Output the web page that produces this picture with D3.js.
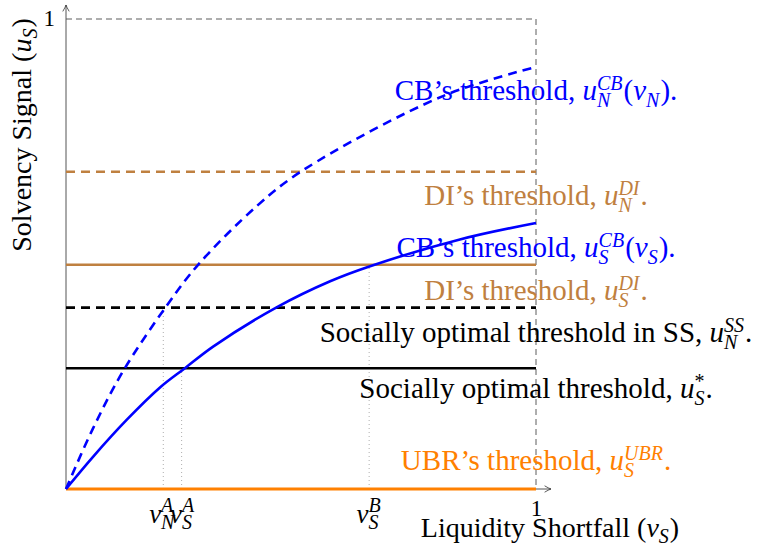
<!DOCTYPE html>
<html lang="en">
<head>
<meta charset="utf-8">
<title>Thresholds</title>
<script src="https://d3js.org/d3.v7.min.js"></script>
<style>
  body { margin: 0; background: #fff; }
  svg { display: block; }
  text { font-family: "Liberation Serif", "DejaVu Serif", serif; white-space: pre; }
</style>
</head>
<body>
<script>
// ---- data ----
// CB threshold curves (v, u)
var cbNormal = [[0,0],[0.057,0.128],[0.121,0.250],[0.215,0.391],[0.281,0.477],[0.406,0.602],[0.504,0.678],[0.802,0.836],[1,0.898]];
var cbStress = [[0,0],[0.057,0.068],[0.130,0.148],[0.200,0.216],[0.253,0.257],[0.313,0.303],[0.449,0.387],[0.562,0.442],[0.647,0.474],[0.838,0.531],[1,0.566]];
// horizontal thresholds
var diNormal = 0.675, diStress = 0.477, ssNormal = 0.386, ssStar = 0.257, ubr = 0;
// cut-offs on the x axis
var vNA = 0.207, vSA = 0.246, vSB = 0.645;

var W = 759, H = 554;
var blue = '#0000ff', brown = '#bf8040', orange = '#ff8000';

var svg = d3.select('body').append('svg').attr('width', W).attr('height', H);

var x = d3.scaleLinear().domain([0, 1]).range([66, 536]);
var y = d3.scaleLinear().domain([0, 1]).range([489, 19]);

var line = d3.line()
  .x(function(d) { return x(d[0]); })
  .y(function(d) { return y(d[1]); })
  .curve(d3.curveCatmullRom.alpha(0.5));

// frame: top and right dashed
svg.append('path')
  .attr('d', 'M' + x(0) + ',' + y(1) + 'H' + x(1) + 'V' + y(0))
  .attr('fill', 'none').attr('stroke', '#333').attr('stroke-width', 0.8)
  .attr('stroke-dasharray', '6,4');

// dotted verticals
[[vNA, ssNormal], [vSA, ssStar], [vSB, diStress]].forEach(function(p) {
  svg.append('line')
    .attr('x1', x(p[0])).attr('x2', x(p[0]))
    .attr('y1', y(0)).attr('y2', y(p[1]))
    .attr('stroke', '#999').attr('stroke-width', 0.8)
    .attr('stroke-dasharray', '1,3');
});

// axes
var defs = svg.append('defs');
defs.append('marker').attr('id', 'arr').attr('viewBox', '0 0 10 10')
  .attr('refX', 9).attr('refY', 5).attr('markerWidth', 8).attr('markerHeight', 8)
  .attr('markerUnits', 'userSpaceOnUse')
  .attr('orient', 'auto')
  .append('path').attr('d', 'M1,1 Q6,4 9,5 Q6,6 1,9').attr('fill', 'none')
  .attr('stroke', '#333').attr('stroke-width', 1);

var yAxis = svg.append('g').attr('transform', 'translate(' + x(0) + ',0)')
  .call(d3.axisLeft(y).tickValues([1]).tickSize(0).tickPadding(11).tickFormat(d3.format('d')));
yAxis.select('.domain').remove();
yAxis.selectAll('text').attr('font-size', 23).attr('fill', '#000').attr('dy', '0.3em');

var xAxis = svg.append('g').attr('transform', 'translate(0,' + y(0) + ')')
  .call(d3.axisBottom(x).tickValues([1]).tickSize(0).tickPadding(11).tickFormat(d3.format('d')));
xAxis.select('.domain').remove();
xAxis.selectAll('text').attr('font-size', 23).attr('fill', '#000');

svg.append('line').attr('x1', x(0)).attr('y1', y(0)).attr('x2', x(0)).attr('y2', 5)
  .attr('stroke', '#555').attr('stroke-width', 1).attr('marker-end', 'url(#arr)');
svg.append('line').attr('x1', x(0)).attr('y1', y(0)).attr('x2', 551).attr('y2', y(0))
  .attr('stroke', '#555').attr('stroke-width', 1).attr('marker-end', 'url(#arr)');

// horizontal thresholds
function hline(v, col, dash, w) {
  svg.append('line').attr('x1', x(0)).attr('x2', x(1)).attr('y1', y(v)).attr('y2', y(v))
    .attr('stroke', col).attr('stroke-width', w || 2.6)
    .attr('stroke-dasharray', dash ? '9,6' : null);
}
hline(diNormal, brown, true);
hline(diStress, brown, false);
hline(ssNormal, '#000', true);
hline(ssStar, '#000', false);
hline(ubr, orange, false, 3);

// curves
svg.append('path').datum(cbNormal).attr('d', line).attr('fill', 'none')
  .attr('stroke', blue).attr('stroke-width', 2.6).attr('stroke-dasharray', '9,6');
svg.append('path').datum(cbStress).attr('d', line).attr('fill', 'none')
  .attr('stroke', blue).attr('stroke-width', 2.6);

// math-ish label builder: pieces laid out left to right, then placed
function mathLabel(parts, cx, by, col, opt) {
  opt = opt || {};
  var fs = opt.fs || 29, ss = opt.ss || 20;
  var up = opt.up || 10, dn = opt.dn || 7;
  var g = svg.append('g').attr('fill', col);
  var cur = 0;
  parts.forEach(function(p) {
    if (p.t !== undefined) {
      var t = g.append('text').attr('x', cur).attr('y', 0).attr('font-size', fs)
        .attr('font-style', p.i ? 'italic' : null).text(p.t);
      cur += t.node().getComputedTextLength();
    } else {
      var wmax = 0;
      if (p.sup) {
        var a = g.append('text').attr('x', cur).attr('y', -up).attr('font-size', ss)
          .attr('font-style', p.roman ? null : 'italic').text(p.sup);
        wmax = Math.max(wmax, a.node().getComputedTextLength());
      }
      if (p.sub) {
        var b = g.append('text').attr('x', cur).attr('y', dn).attr('font-size', ss)
          .attr('font-style', 'italic').text(p.sub);
        wmax = Math.max(wmax, b.node().getComputedTextLength());
      }
      cur += wmax + 1;
    }
  });
  var off = opt.anchor === 'start' ? 0 : opt.anchor === 'end' ? -cur : -cur / 2;
  g.attr('transform', 'translate(' + (cx + off) + ',' + by + ')');
  g.property('w', cur);
  return g;
}

var lx = x(1);
mathLabel([{t: 'CB\u2019s threshold, '}, {t: 'u', i: true}, {sup: 'CB', sub: 'N'}, {t: '('}, {t: 'v', i: true}, {sub: 'N'}, {t: ').'}], lx, 100, blue);
mathLabel([{t: 'DI\u2019s threshold, '}, {t: 'u', i: true}, {sup: 'DI', sub: 'N'}, {t: '.'}], lx, 205, brown);
mathLabel([{t: 'CB\u2019s threshold, '}, {t: 'u', i: true}, {sup: 'CB', sub: 'S'}, {t: '('}, {t: 'v', i: true}, {sub: 'S'}, {t: ').'}], lx, 257, blue);
mathLabel([{t: 'DI\u2019s threshold, '}, {t: 'u', i: true}, {sup: 'DI', sub: 'S'}, {t: '.'}], lx, 300, brown);
mathLabel([{t: 'Socially optimal threshold in SS, '}, {t: 'u', i: true}, {sup: 'SS', sub: 'N'}, {t: '.'}], lx, 342, '#000');
mathLabel([{t: 'Socially optimal threshold, '}, {t: 'u', i: true}, {sup: '*', roman: true, sub: 'S'}, {t: '.'}], lx, 398, '#000');
mathLabel([{t: 'UBR\u2019s threshold, '}, {t: 'u', i: true}, {sup: 'UBR', sub: 'S'}, {t: '.'}], lx, 470, orange);

// x tick labels for cut-offs (centred on their dotted lines)
var tk = {fs: 27, ss: 20, up: 11, dn: 6};
mathLabel([{t: 'v', i: true}, {sup: 'A', sub: 'N'}], x(vNA) - 1, 523, '#000', tk);
mathLabel([{t: 'v', i: true}, {sup: 'A', sub: 'S'}], x(vSA) + 1, 523, '#000', tk);
mathLabel([{t: 'v', i: true}, {sup: 'B', sub: 'S'}], x(vSB), 523, '#000', tk);

// axis titles
mathLabel([{t: 'Liquidity Shortfall ('}, {t: 'v', i: true}, {sub: 'S'}, {t: ')'}], 550, 537, '#000', {fs: 28, ss: 20, dn: 6});
var yl = mathLabel([{t: 'Solvency Signal ('}, {t: 'u', i: true}, {sub: 'S'}, {t: ')'}], 0, 0, '#000', {fs: 28, ss: 20, dn: 6, anchor: 'start'});
yl.attr('transform', 'translate(31,' + (135 + yl.property('w') / 2) + ') rotate(-90)');
</script>
</body>
</html>
